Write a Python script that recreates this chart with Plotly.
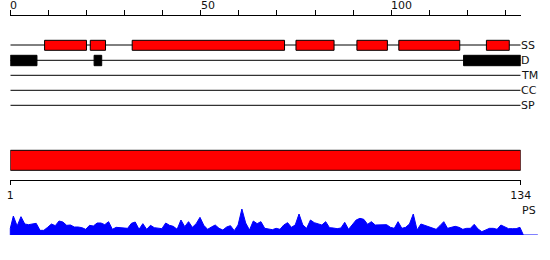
import plotly.graph_objects as go

# ---------------- data ----------------
seq_len = 134
top_ticks = list(range(0, 131, 10))
top_tick_labels = ["0", "50", "100"]
top_tick_label_pos = [0, 50, 100]

ss_starts = [9, 21, 32, 75, 91, 102, 125]
ss_ends = [20, 25, 72, 85, 99, 118, 131]
d_starts = [0, 22, 119]
d_ends = [7, 24, 134]

track_names = ["SS", "D", "TM", "CC", "SP"]

bar_start = 1
bar_end = 134
bottom_tick_vals = [1, 134]
bottom_tick_text = ["1", "134"]

ps_pos = list(range(1, 135))
ps_vals = [57, 27, 55, 33, 31, 33, 35, 14, 14, 23, 33, 28, 42, 39, 29, 30, 24, 24, 22, 17,
           29, 27, 36, 36, 31, 40, 17, 23, 22, 19, 20, 35, 39, 17, 34, 17, 29, 22, 21, 19,
           36, 29, 26, 17, 45, 25, 40, 23, 34, 53, 29, 17, 24, 30, 20, 15, 24, 28, 13, 30,
           78, 36, 15, 42, 34, 40, 20, 18, 16, 20, 17, 30, 37, 23, 30, 63, 30, 20, 45, 37,
           34, 30, 40, 22, 21, 19, 21, 38, 17, 30, 45, 50, 47, 32, 40, 30, 30, 31, 31, 23,
           20, 40, 20, 23, 33, 63, 15, 33, 29, 25, 20, 17, 28, 40, 20, 23, 26, 23, 17, 20,
           20, 32, 18, 10, 15, 20, 20, 17, 30, 25, 19, 19, 19, 23]
ps_start_pos, ps_start_val = 0.2, 20
ps_end_pos, ps_tail_pos = 134.9, 138.7

# ---------------- layout constants ----------------
W, H = 550, 260
X0, X1 = 10.3, 520.7          # pixel extent of the sequence scale
dom = [X0 / W, X1 / W]
px_per = (X1 - X0) / seq_len


def yp(px):  # pixel from top -> paper fraction
    return 1 - px / H


FONT = "DejaVu Sans"
TXT = "#111111"
FS = 11

fig = go.Figure()

fig.add_trace(go.Scatter(x=[0, seq_len], y=[0, 0], xaxis="x", yaxis="y",
                         mode="lines", line=dict(width=0), hoverinfo="skip",
                         showlegend=False))
fig.add_trace(go.Scatter(x=[bar_start, bar_end], y=[0, 0], xaxis="x2", yaxis="y",
                         mode="lines", line=dict(width=0), hoverinfo="skip",
                         showlegend=False))

# PS area
px_x = [ps_start_pos, ps_start_pos] + ps_pos + [ps_end_pos, ps_tail_pos]
px_y = [0, ps_start_val] + ps_vals + [0, 0]
fig.add_trace(go.Scatter(x=px_x, y=px_y, xaxis="x3", yaxis="y2", mode="lines",
                         line=dict(color="#0000ff", width=1), fill="tozeroy",
                         fillcolor="#0000ff", hoverinfo="skip", showlegend=False))

shapes = []
annotations = []
track_y = [45, 60.3, 75.3, 90.3, 105.3]
for name, ty in zip(track_names, track_y):
    shapes.append(dict(type="line", xref="x", yref="paper", x0=0, x1=seq_len,
                       y0=yp(ty), y1=yp(ty), line=dict(color="black", width=1)))
    annotations.append(dict(text=name, xref="x", yref="paper", x=seq_len, y=yp(ty),
                            xanchor="left", yanchor="middle", showarrow=False,
                            xshift=-2, font=dict(family=FONT, size=FS, color=TXT)))

for s, e in zip(ss_starts, ss_ends):
    shapes.append(dict(type="rect", xref="x", yref="paper", x0=s, x1=e,
                       y0=yp(50.3), y1=yp(40.3), fillcolor="#ff0000",
                       line=dict(color="black", width=1)))
for s, e in zip(d_starts, d_ends):
    shapes.append(dict(type="rect", xref="x", yref="paper", x0=s, x1=e,
                       y0=yp(65.7), y1=yp(55.3), fillcolor="black",
                       line=dict(color="black", width=1)))

# big bar
shapes.append(dict(type="rect", xref="x2", yref="paper", x0=bar_start, x1=bar_end,
                   y0=yp(170.3), y1=yp(150.3), fillcolor="#ff0000",
                   line=dict(color="black", width=1)))

# top tick labels (left aligned at tick)
for v, t in zip(top_tick_label_pos, top_tick_labels):
    annotations.append(dict(text=t, xref="x", yref="paper", x=v, y=yp(5.5),
                            xanchor="left", yanchor="middle", showarrow=False,
                            xshift=-2, font=dict(family=FONT, size=FS, color=TXT)))

annotations.append(dict(text="PS", xref="paper", yref="paper", x=521.5 / W, y=yp(210.5),
                        xanchor="left", yanchor="middle", showarrow=False, xshift=-2,
                        font=dict(family=FONT, size=FS, color=TXT)))

# PS axis range so that k maps to pixel 9.52 + px_per*k
k_lo = (0 - (X0 - 0.2 * px_per)) / px_per
k_hi = (W - (X0 - 0.2 * px_per)) / px_per

fig.update_layout(
    template="none",
    width=W, height=H, margin=dict(l=0, r=0, t=0, b=0, pad=0, autoexpand=False),
    paper_bgcolor="white", plot_bgcolor="rgba(0,0,0,0)",
    font=dict(family=FONT, color=TXT),
    xaxis=dict(domain=dom, range=[0, seq_len], anchor="free", position=yp(15),
               side="top", showline=True, linecolor="black", linewidth=1,
               ticks="outside", ticklen=5, tickcolor="black", tickwidth=1,
               tickvals=top_ticks, showticklabels=False, showgrid=False,
               zeroline=False, fixedrange=True, automargin=False),
    xaxis2=dict(domain=dom, range=[bar_start, bar_end], anchor="free",
                position=yp(180.3), side="bottom", showline=True,
                linecolor="black", linewidth=1, ticks="outside", ticklen=4,
                tickcolor="black", tickwidth=1, tickvals=bottom_tick_vals,
                ticktext=bottom_tick_text, tickfont=dict(family=FONT, size=FS, color=TXT),
                showgrid=False, zeroline=False, overlaying="x", automargin=False),
    xaxis3=dict(domain=[0, 1], range=[k_lo, k_hi], anchor="y2", visible=False,
                automargin=False),
    yaxis=dict(domain=[0, 1], range=[0, 1], visible=False, fixedrange=True,
               automargin=False),
    yaxis2=dict(domain=[yp(235), yp(205)], range=[0, 90], visible=False,
                anchor="x3", automargin=False),
    shapes=shapes, annotations=annotations,
)

fig.write_html("out.html")
